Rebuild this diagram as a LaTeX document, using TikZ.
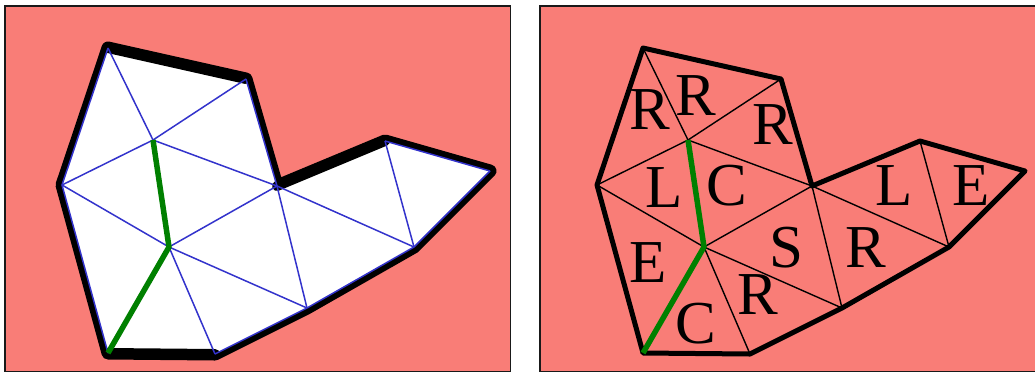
\documentclass[tikz,border=0pt]{standalone}
\usepackage{fontspec}
\setmainfont{Liberation Serif}
\definecolor{bg}{RGB}{249,125,119}
\definecolor{tri}{RGB}{51,51,204}
\definecolor{grn}{RGB}{0,128,0}
\newcommand\mkverts[1]{%
  \coordinate (#1A) at (108,48);
  \coordinate (#1B) at (246,79);
  \coordinate (#1C) at (62,185);
  \coordinate (#1P) at (153,140);
  \coordinate (#1Q) at (277,186);
  \coordinate (#1M) at (169,247);
  \coordinate (#1D) at (108,353);
  \coordinate (#1F) at (215,354);
  \coordinate (#1G) at (307,308);
  \coordinate (#1H) at (414,247);
  \coordinate (#1I) at (385,141);
  \coordinate (#1J) at (490,171);
}
\begin{document}
\begin{tikzpicture}[x=1pt,y=-1pt,
  panel/.style={fill=bg,draw=black!90,line width=1.6pt},
  outline/.style={draw=black,line width=13pt,line join=round},
  cedge/.style={draw=black,line width=10pt,line cap=round},
  tedge/.style={draw=tri,line width=1.5pt},
  redge/.style={draw=black,line width=1.4pt},
  rbound/.style={draw=black,line width=5pt,line join=round},
  path/.style={draw=grn,line width=5.5pt,line join=round},
  lab/.style={font=\fontsize{61}{61}\selectfont,inner sep=0pt,anchor=center}]
\useasboundingbox (0,0) rectangle (1035,373);
\clip (0,0) rectangle (1035,373);
% ---------- left panel ----------
\path[panel] (5,6) rectangle (510.5,371.5);
\mkverts{l}
\path[outline] (lA) -- (lB) -- (lQ) -- (lI) -- (lJ) -- (lH) -- (lG) -- (lF) -- (lD) -- (lC) -- cycle;
\fill[white] (lA) -- (lB) -- (lQ) -- (lI) -- (lJ) -- (lH) -- (lG) -- (lF) -- (lD) -- (lC) -- cycle;
\path[cedge] (lA) -- (lB);
\path[cedge] (lQ) -- (lI);
\path[cedge] (lD) -- (lF);
\foreach \u/\v in {B/Q,I/J,J/H,H/G,G/F,D/C,C/A,A/P,B/P,C/P,P/Q,C/M,Q/M,F/M,G/M,G/Q,H/Q,H/I,P/M,M/D}
  \path[tedge] (l\u) -- (l\v);
\path[path] (lP) -- (lM) -- (lD);
% ---------- right panel ----------
\path[panel] (540,6) rectangle (1060,371.5);
\begin{scope}[xshift=535pt]
\mkverts{r}
\end{scope}
\path[rbound] (rA) -- (rB) -- (rQ) -- (rI) -- (rJ) -- (rH) -- (rG) -- (rF) -- (rD) -- (rC) -- cycle;
\foreach \u/\v in {A/P,B/P,C/P,P/Q,C/M,Q/M,F/M,G/M,G/Q,H/Q,H/I}
  \path[redge] (r\u) -- (r\v);
\path[path] (rP) -- (rM) -- (rD);
\node[lab] (t1) at (650,110) {R};
\node[lab] (t2) at (696,96) {R};
\node[lab] (t3) at (773,125) {R};
\node[lab] (t4) at (664,188) {L};
\node[lab] (t5) at (727,186) {C};
\node[lab] (t6) at (648,263) {E};
\node[lab] (t7) at (696,324) {C};
\node[lab] (t8) at (758,295) {R};
\node[lab] (t9) at (786,248) {S};
\node[lab] (t10) at (866,248) {R};
\node[lab] (t11) at (894,186) {L};
\node[lab] (t12) at (971,186) {E};
\end{tikzpicture}
\end{document}
